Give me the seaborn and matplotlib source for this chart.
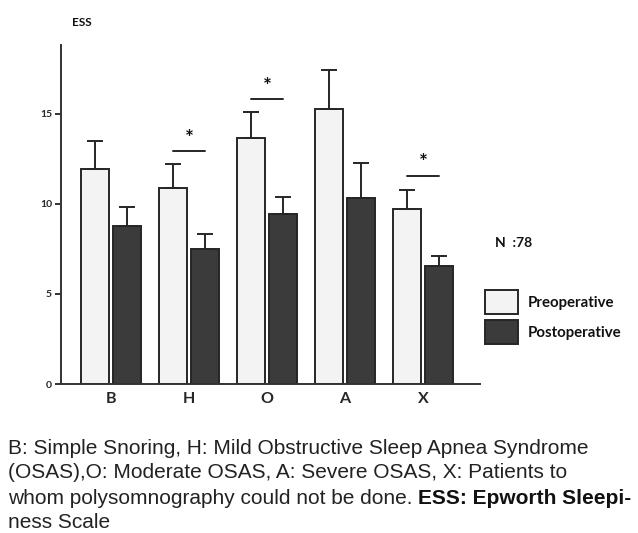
import matplotlib
matplotlib.use("Agg")
import matplotlib.pyplot as plt
import seaborn as sns
import pandas as pd
import numpy as np
from matplotlib.patches import Patch

groups = ["B", "H", "O", "A", "X"]
periods = ["Preoperative", "Postoperative"]
pre_mean = [11.9, 10.87, 13.65, 15.26, 9.7]
pre_err = [1.6, 1.33, 1.45, 2.14, 1.05]
post_mean = [8.78, 7.5, 9.44, 10.3, 6.52]
post_err = [1.02, 0.8, 0.91, 1.95, 0.58]
sig_groups = ["H", "O", "X"]
sig_levels = [12.9, 15.78, 11.54]
n_label = "N  :78"
y_label = "ESS"
caption_lines = [
    "B: Simple Snoring, H: Mild Obstructive Sleep Apnea Syndrome",
    "(OSAS),O: Moderate OSAS, A: Severe OSAS, X: Patients to",
    "whom polysomnography could not be done. ",
    "ness Scale",
]
caption_bold = "ESS: Epworth Sleepi-"

df = pd.DataFrame({
    "group": groups * 2,
    "period": [periods[0]] * 5 + [periods[1]] * 5,
    "ess": pre_mean + post_mean,
})

sns.set_theme(style="white")
plt.rcParams["font.family"] = ["Lato", "DejaVu Sans"]

W, H = 638, 533
fig = plt.figure(figsize=(W / 100, H / 100), dpi=100)
ax = fig.add_axes([61 / W, 1 - 384 / H, (480 - 61) / W, (384 - 45) / H])

pre_col = "#f3f3f3"
post_col = "#3b3b3b"
edge = "#262626"
sns.barplot(data=df, x="group", y="ess", hue="period", order=groups,
            hue_order=periods, palette=[pre_col, post_col], width=0.82,
            gap=0.1, errorbar=None, edgecolor=edge, linewidth=1.4,
            legend=False, ax=ax)

# error bars (upper only) at bar centres
centres = {}
for cont, errs, means, per in zip(ax.containers, [pre_err, post_err],
                                  [pre_mean, post_mean], periods):
    xs = [p.get_x() + p.get_width() / 2 for p in cont.patches]
    centres[per] = xs
    ax.errorbar(xs, means, yerr=[np.zeros(len(errs)), errs], fmt="none",
                ecolor=edge, elinewidth=1.4, capsize=5.5, capthick=1.4, zorder=1)

# significance marks
for g, lvl in zip(sig_groups, sig_levels):
    i = groups.index(g)
    x0, x1 = centres[periods[0]][i], centres[periods[1]][i]
    ax.plot([x0, x1], [lvl, lvl], color=edge, lw=1.4)
    ax.text((x0 + x1) / 2, lvl + 0.15, "*", ha="center", va="bottom",
            fontsize=15, fontweight="bold", color="#111")

ax.set_xlim(-0.64, 4.73)
ax.set_ylim(0, 18.8)
ax.set_yticks([0, 5, 10, 15])
ax.set_xlabel("")
ax.set_ylabel("")
for s in ["top", "right"]:
    ax.spines[s].set_visible(False)
for s in ["left", "bottom"]:
    ax.spines[s].set_color("#333")
    ax.spines[s].set_linewidth(1.4)
ax.tick_params(axis="y", direction="out", length=4.5, width=1.4, color="#333",
               labelsize=7.5, pad=2, left=True)
ax.tick_params(axis="x", length=0, labelsize=11.5, pad=6)
for lab in ax.get_yticklabels():
    lab.set_fontweight("bold")
for lab in ax.get_xticklabels():
    lab.set_fontweight("bold")

# small inner ticks under each bar
minor = centres[periods[0]] + centres[periods[1]]
ax.set_xticks(minor, minor=True)
ax.tick_params(axis="x", which="minor", direction="in", length=2, width=1.4,
               color="#333", bottom=True)

fig.text(72 / W, 1 - 22 / H, y_label, fontsize=8.5, fontweight="bold",
         ha="left", va="center", color="#111")
fig.text(495 / W, 1 - 243 / H, n_label, fontsize=10, fontweight="bold",
         ha="left", va="center", color="#111")

handles = [Patch(facecolor=pre_col, edgecolor=edge, linewidth=1.4),
           Patch(facecolor=post_col, edgecolor=edge, linewidth=1.4)]
leg = fig.legend(handles, periods, loc="upper left",
                 bbox_to_anchor=(471 / W, 1 - 277 / H), frameon=False,
                 fontsize=10.8, handlelength=2.2, handleheight=2.0,
                 labelspacing=0.45, handletextpad=0.7)
for t in leg.get_texts():
    t.set_fontweight("bold")
    t.set_color("#111")

cap_family = ["Liberation Sans", "DejaVu Sans"]
cap_size = 15
line_y = [448, 473, 498, 523]
texts = []
for line, yy in zip(caption_lines, line_y):
    texts.append(fig.text(8 / W, 1 - yy / H, line, fontsize=cap_size,
                          family=cap_family, ha="left", va="center",
                          color="#222"))
fig.canvas.draw()
bb = texts[2].get_window_extent()
fig.text(bb.x1 / W, 1 - line_y[2] / H, caption_bold, fontsize=cap_size,
         family=cap_family, fontweight="bold", ha="left", va="center",
         color="#111")

fig.savefig("out.png", dpi=100)
